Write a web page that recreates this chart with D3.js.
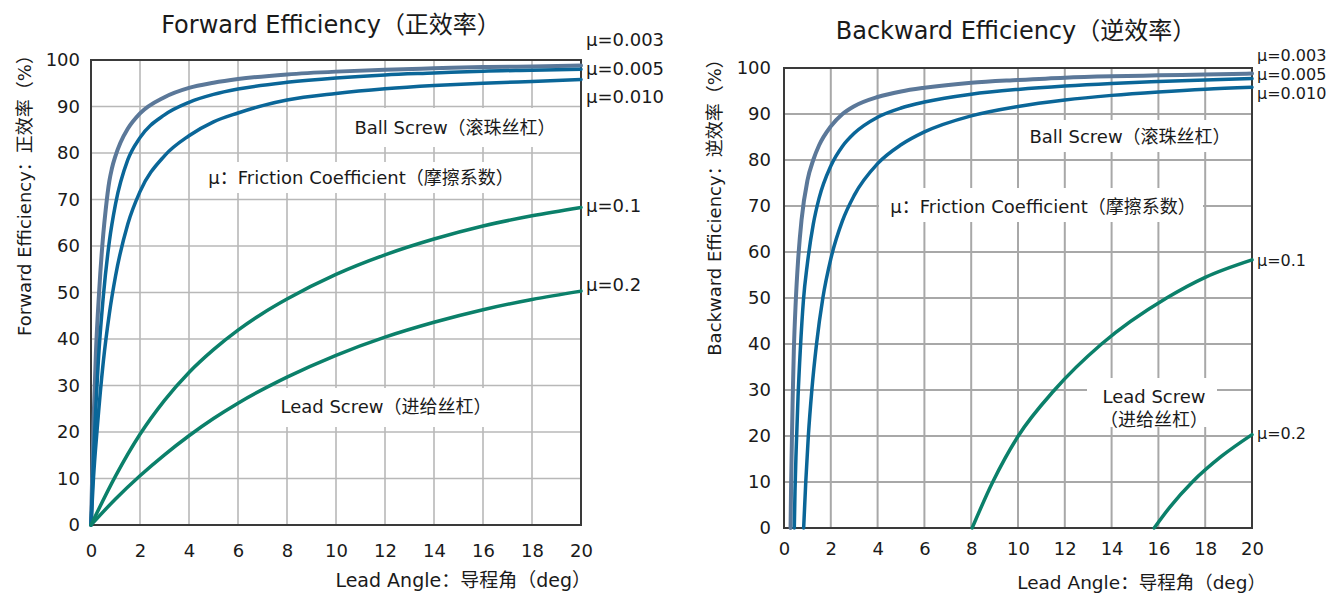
<!DOCTYPE html>
<html>
<head>
<meta charset="utf-8">
<script src="https://cdn.jsdelivr.net/npm/d3@7"></script>
<style>
  body { margin: 0; background: #fff; }
  text { font-family: "DejaVu Sans", "Noto Sans CJK SC", sans-serif; fill: #1a1a1a; }
</style>
</head>
<body>
<div id="chart"></div>
<script>
// Ejes
const leadAngleTicks = [0, 2, 4, 6, 8, 10, 12, 14, 16, 18, 20];
const efficiencyTicks = [0, 10, 20, 30, 40, 50, 60, 70, 80, 90, 100];
const muLabels = ["μ=0.003", "μ=0.005", "μ=0.010", "μ=0.1", "μ=0.2"];

// Forward efficiency [lead angle deg, efficiency %]
const fwd003 = [[0,0],[0.1,21.7],[0.2,37],[0.33,50],[0.5,62.5],[0.6,67.8],[0.75,74],[0.85,76.6],[1,79.4],[1.2,82.2],[1.5,85.2],[2,88.5],[3,92],[4,94],[5,95.1],[6,95.9],[8,96.9],[10,97.5],[12,97.9],[14,98.2],[16,98.5],[18,98.6],[20,98.8]];
const fwd005 = [[0,0],[0.1,14.3],[0.2,25.6],[0.3,35.3],[0.5,49],[0.75,61],[1,69],[1.5,78.5],[2,83.3],[3,88.2],[4,90.9],[5,92.6],[6,93.75],[8,95.2],[10,96.15],[12,96.8],[14,97.2],[16,97.6],[18,97.8],[20,98]];
const fwd010 = [[0,0],[0.1,10],[0.25,20.5],[0.5,35],[0.75,45.5],[1,53.5],[1.5,64.7],[2,71.7],[3,79.4],[4,83.7],[5,86.7],[6,88.6],[7,90.2],[8,91.4],[10,92.8],[12,93.8],[14,94.5],[16,95],[18,95.4],[20,95.8]];
const fwd1 = [[0,0],[1,10.5],[2,19.5],[3,26.8],[4,32.8],[5,37.7],[6,41.9],[7,45.5],[8,48.6],[10,53.9],[12,58.1],[14,61.5],[16,64.3],[18,66.5],[20,68.3]];
const fwd2 = [[0,0],[1,5.6],[2,10.6],[3,15.1],[4,19.2],[5,22.9],[6,26.2],[8,31.8],[10,36.5],[12,40.4],[14,43.6],[16,46.3],[18,48.5],[20,50.3]];

// Backward efficiency
const bwd003 = [[0.28,0],[0.3,8],[0.33,17],[0.37,28],[0.42,38.5],[0.5,49],[0.6,58],[0.75,67],[1,75.5],[1.25,80],[1.5,83.2],[2,87.3],[2.5,90],[3,91.7],[4,93.7],[5,94.9],[6,95.7],[8,96.8],[10,97.4],[12,97.9],[14,98.2],[16,98.4],[18,98.6],[20,98.8]];
const bwd005 = [[0.44,0],[0.47,8],[0.52,17],[0.6,28.5],[0.7,39],[0.83,49.5],[1,57.5],[1.25,66],[1.5,71.7],[2,78.7],[2.5,83],[3,85.8],[4,89.3],[5,91.3],[6,92.6],[8,94.3],[10,95.35],[12,96.1],[14,96.65],[16,97.05],[18,97.4],[20,97.7]];
const bwd010 = [[0.84,0],[0.93,10],[1.04,20],[1.19,30],[1.39,40],[1.66,50],[2,58.5],[2.5,66.8],[3,72.3],[4,79.2],[5,83.3],[6,86.1],[8,89.6],[10,91.65],[12,93.05],[14,94.05],[16,94.8],[18,95.4],[20,95.8]];
const bwd1 = [[8.04,0],[8.92,10],[10.01,20],[11.56,30],[13.57,40],[16.35,50],[18,54.5],[20,58.3]];
const bwd2 = [[15.82,0],[16.5,4.6],[17.45,10],[18.7,15.6],[20,20.3]];

const colors = ["#5b7899", "#0a6698", "#0a6698", "#0b806a", "#0b806a"];

const svg = d3.select("#chart")
    .append("svg")
    .attr("width", 1338)
    .attr("height", 596);

function drawPanel(p) {
    const g = svg.append("g");

    const x = d3.scaleLinear().domain([0, 20]).range([p.left, p.right]);
    const y = d3.scaleLinear().domain([0, 100]).range([p.bottom, p.top]);

    // Grid
    g.selectAll(null)
        .data(leadAngleTicks.slice(1, -1))
        .enter()
        .append("line")
        .attr("x1", d => x(d)).attr("x2", d => x(d))
        .attr("y1", p.top).attr("y2", p.bottom)
        .style("stroke", p.grid).style("stroke-width", p.gridW);

    g.selectAll(null)
        .data(efficiencyTicks.slice(1, -1))
        .enter()
        .append("line")
        .attr("x1", p.left).attr("x2", p.right)
        .attr("y1", d => y(d)).attr("y2", d => y(d))
        .style("stroke", p.grid).style("stroke-width", p.gridW);

    // Cajas blancas detras de las notas
    p.notes.forEach(n => {
        g.append("rect")
            .attr("x", n.box[0]).attr("y", n.box[1])
            .attr("width", n.box[2] - n.box[0]).attr("height", n.box[3] - n.box[1])
            .style("fill", "#fff");
        n.lines.forEach((t, i) => {
            g.append("text")
                .attr("x", n.x).attr("y", n.y + i * 23)
                .attr("dy", "0.35em")
                .attr("text-anchor", "middle")
                .style("font-size", "18px")
                .text(t);
        });
    });

    // Marco
    g.append("rect")
        .attr("x", p.left).attr("y", p.top)
        .attr("width", p.right - p.left).attr("height", p.bottom - p.top)
        .style("fill", "none").style("stroke", "#3a3a3a").style("stroke-width", 2);

    // Ejes
    const xAxis = g.append("g")
        .attr("transform", `translate(0,${p.bottom})`)
        .call(d3.axisBottom(x).tickValues(leadAngleTicks).tickSize(0).tickPadding(p.xPad));
    const yAxis = g.append("g")
        .attr("transform", `translate(${p.left},0)`)
        .call(d3.axisLeft(y).tickValues(efficiencyTicks).tickSize(0).tickPadding(p.yPad));
    [xAxis, yAxis].forEach(a => {
        a.select(".domain").remove();
        a.selectAll("text")
            .style("font-size", "18px")
            .style("font-family", "\"DejaVu Sans\", sans-serif")
            .style("fill", "#1a1a1a");
    });

    // Curvas
    const line = d3.line()
        .x(d => x(d[0]))
        .y(d => y(d[1]))
        .curve(d3.curveMonotoneX);

    p.series.forEach((s, i) => {
        g.append("path")
            .datum(s)
            .attr("d", line)
            .style("fill", "none")
            .style("stroke", colors[i])
            .style("stroke-width", i === 0 ? 4 : 3.5)
            .style("stroke-linecap", "round");
    });

    // Etiquetas mu
    muLabels.forEach((t, i) => {
        g.append("text")
            .attr("x", p.labelX).attr("y", p.labelY[i])
            .attr("dy", "0.35em")
            .style("font-size", p.labelSize)
            .text(t);
    });

    // Titulo
    g.append("text")
        .attr("x", p.titleX).attr("y", p.titleY)
        .attr("dy", "0.35em")
        .attr("text-anchor", "middle")
        .style("font-size", "24px")
        .text(p.title);

    // Etiqueta eje X
    g.append("text")
        .attr("x", p.xTitleX).attr("y", p.xTitleY)
        .attr("dy", "0.35em")
        .attr("text-anchor", "end")
        .style("font-size", p.xTitleSize)
        .text("Lead Angle：导程角（deg）");

    // Etiqueta eje Y
    g.append("text")
        .attr("transform", `translate(${p.yTitleX},${p.yTitleY}) rotate(-90)`)
        .attr("dy", "0.35em")
        .attr("text-anchor", "middle")
        .style("font-size", "18px")
        .text(p.yTitle);
}

drawPanel({
    left: 91, right: 581, top: 60, bottom: 525,
    grid: "#b8b8b8", gridW: 1.6, xPad: 19, yPad: 11,
    series: [fwd003, fwd005, fwd010, fwd1, fwd2],
    labelX: 586, labelY: [40, 69, 97, 206, 285], labelSize: "18px",
    title: "Forward Efficiency（正效率）", titleX: 331, titleY: 25,
    xTitleX: 591, xTitleY: 580, xTitleSize: "19px",
    yTitle: "Forward Efficiency：正效率（%）", yTitleX: 25, yTitleY: 191,
    notes: [
        { x: 455, y: 128, lines: ["Ball Screw（滚珠丝杠）"], box: [345, 108, 565, 147] },
        { x: 361, y: 178, lines: ["μ：Friction Coefficient（摩擦系数）"], box: [197, 162, 525, 193] },
        { x: 386, y: 407, lines: ["Lead Screw（进给丝杠）"], box: [272, 388, 500, 427] }
    ]
});

drawPanel({
    left: 784, right: 1252, top: 68, bottom: 528,
    grid: "#a8a8a8", gridW: 2, xPad: 14, yPad: 13,
    series: [bwd003, bwd005, bwd010, bwd1, bwd2],
    labelX: 1257, labelY: [55, 74, 93, 260, 433], labelSize: "16px",
    title: "Backward Efficiency（逆效率）", titleX: 1016, titleY: 31,
    xTitleX: 1266, xTitleY: 583, xTitleSize: "18.5px",
    yTitle: "Backward Efficiency：逆效率（%）", yTitleX: 715, yTitleY: 203,
    notes: [
        { x: 1130, y: 137, lines: ["Ball Screw（滚珠丝杠）"], box: [1020, 120, 1240, 152] },
        { x: 1043, y: 207, lines: ["μ：Friction Coefficient（摩擦系数）"], box: [879, 188, 1203, 222] },
        { x: 1154, y: 397, lines: ["Lead Screw", "（进给丝杠）"], box: [1087, 378, 1217, 427] }
    ]
});
</script>
</body>
</html>
